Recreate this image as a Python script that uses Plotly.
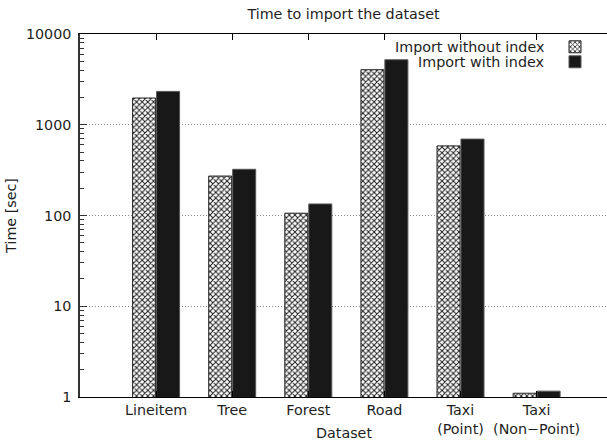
import plotly.graph_objects as go

categories = ["Lineitem", "Tree", "Forest", "Road", "Taxi<br>(Point)", "Taxi<br>(Non\u2212Point)"]
without_index = [1970, 272, 106, 4040, 585, 1.10]
with_index = [2330, 323, 134, 5200, 695, 1.16]
series_names = ["Import without index", "Import with index"]
y_ticks = [1, 10, 100, 1000, 10000]
y_tick_text = ["1", "10", "100", "1000", "10000"]

FONT = "DejaVu Sans"
FS = 14.3
TXT = "#1e1e1e"
PLOT_H = 442 - 34 - 45
PLOT_W = 607 - 80

fig = go.Figure()
fig.add_trace(go.Bar(
    x=categories, y=without_index, name=" ", legend="legend",
    marker=dict(color="white",
                line=dict(color="#222222", width=1),
                pattern=dict(shape="x", size=4, solidity=0.45,
                             fgcolor="#222222", bgcolor="white", fillmode="replace")),
))
fig.add_trace(go.Bar(
    x=categories, y=with_index, name=" ", legend="legend2",
    marker=dict(color="#181818", line=dict(color="#555555", width=1)),
))

def leg(ypix):
    return dict(x=(605 - 80) / PLOT_W, y=1 - (ypix - 34) / PLOT_H,
                xanchor="right", yanchor="middle", bgcolor="rgba(0,0,0,0)",
                font=dict(family=FONT, size=FS, color=TXT), itemwidth=30,
                borderwidth=0)

fig.update_layout(
    width=607, height=442,
    margin=dict(l=80, r=0, t=34, b=45),
    paper_bgcolor="white", plot_bgcolor="white",
    font=dict(family=FONT, size=FS, color=TXT),
    barmode="group", bargap=0.37, bargroupgap=0.04,
    title=dict(text="Time to import the dataset", x=0.5, xref="paper",
               xanchor="center", y=1 - 14 / 442, yanchor="middle",
               font=dict(family=FONT, size=FS, color=TXT)),
    legend=leg(47),
    legend2=leg(62),
    showlegend=True,
)

for name, ypix in zip(series_names, [47, 62]):
    fig.add_annotation(text=name, xref="paper", yref="paper",
                       x=(546 - 80) / PLOT_W, y=1 - (ypix - 34) / PLOT_H,
                       xanchor="right", yanchor="middle", showarrow=False,
                       font=dict(family=FONT, size=FS, color=TXT))

fig.update_xaxes(
    type="category", range=[-1, 5.925],
    showline=True, linecolor="black", linewidth=1,
    mirror="ticks", ticks="inside", ticklen=6, tickcolor="black",
    showgrid=False, tickfont=dict(family=FONT, size=FS, color=TXT),
)
fig.update_yaxes(
    type="log", range=[0, 4],
    tickvals=y_ticks, ticktext=y_tick_text,
    showline=True, linecolor="#333333", linewidth=1.5,
    ticks="inside", ticklen=7, tickcolor="#333333",
    ticklabelstandoff=4,
    showgrid=True, gridcolor="#8a8a8a", griddash="1px,2px", gridwidth=1,
    minor=dict(ticks="inside", ticklen=4, tickcolor="#333333", dtick="D1", showgrid=False),
    tickfont=dict(family=FONT, size=FS, color=TXT),
    title=dict(text="Time [sec]", font=dict(family=FONT, size=FS, color=TXT), standoff=6),
    zeroline=False,
)

fig.add_annotation(text="Dataset", xref="paper", yref="paper", x=0.5,
                   y=-(433 - 397) / PLOT_H, xanchor="center", yanchor="middle",
                   showarrow=False, font=dict(family=FONT, size=FS, color=TXT))

fig.write_html("out.html")
